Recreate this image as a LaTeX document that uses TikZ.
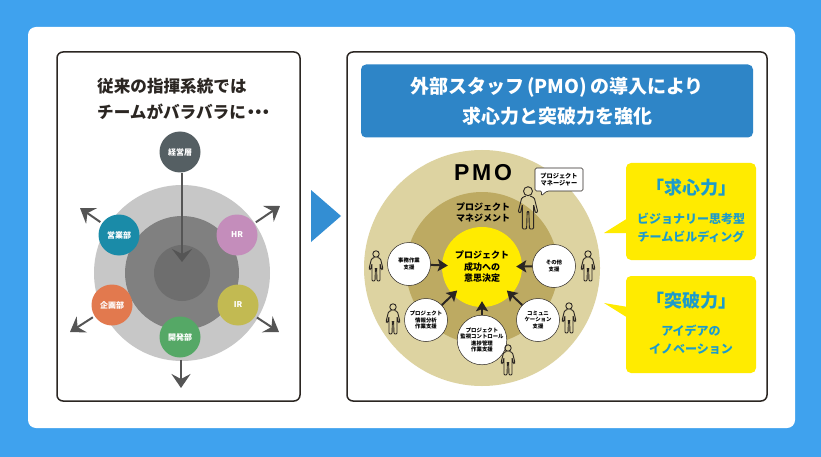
\documentclass[tikz,border=0pt]{standalone}
\usepackage{fontspec}
\setmainfont{Noto Sans CJK JP}
\newfontfamily\pmofont[LetterSpace=12]{Liberation Sans}
\usetikzlibrary{arrows.meta}
\definecolor{bgblue}{HTML}{3FA2EE}
\definecolor{headblue}{HTML}{2E85C7}
\definecolor{textblue}{HTML}{1C9BCB}
\definecolor{arrowgray}{HTML}{555555}
\definecolor{frameblack}{HTML}{2B2622}
\definecolor{outertan}{HTML}{DDD3A1}
\definecolor{midtan}{HTML}{BDAA62}
\definecolor{coreyellow}{HTML}{FFEB00}
\definecolor{execgray}{HTML}{555F63}
\definecolor{salesblue}{HTML}{1A8BA8}
\definecolor{hrpink}{HTML}{C48DBB}
\definecolor{planorange}{HTML}{E2794E}
\definecolor{irolive}{HTML}{C2BA52}
\definecolor{devgreen}{HTML}{55A866}
\newcommand{\sized}[1]{\fontsize{#1}{#1}\selectfont\bfseries}
\tikzset{
  panel/.style={draw=frameblack, line width=1.5pt, fill=white, rounded corners=6pt},
  ring/.style={circle, minimum size=#1, inner sep=0pt},
  dept/.style={circle, minimum size=41pt, inner sep=0pt, text=white, font=\sized{8}},
  topdown/.style={draw=arrowgray, line width=2pt, -{Stealth[length=13pt, width=20pt, inset=5pt]}},
  scatter/.style={draw=arrowgray, line width=2pt, shorten <=2pt, -{Stealth[length=14pt, width=19pt, inset=5pt]}},
  support/.style={circle, draw=frameblack, line width=0.5pt, fill=white, minimum size=43pt, inner sep=0pt, align=center, font=\sized{5.4}},
  push/.style={draw=frameblack, line width=2pt, shorten >=-6pt, -{Stealth[length=10pt, width=12pt, inset=2pt]}},
  callout/.style={fill=coreyellow, rounded corners=5pt},
  person/.pic={
    \draw[frameblack, line width=0.9pt] (0,-12) circle (3.2);
    \draw[frameblack, line width=0.9pt, rounded corners=1pt] (-1.5,-8.6) -- (-4.5,-7.2) -- (-7,2.8) -- (-5.4,3.6) -- (-4,-2.5) -- (-4,15) -- (-1,15) -- (-0.6,2.5) -- (0.6,2.5) -- (1,15) -- (4,15) -- (4,-2.5) -- (5.4,3.6) -- (7,2.8) -- (4.5,-7.2) -- (1.5,-8.6);
  }
}
\begin{document}
\begin{tikzpicture}[x=1pt, y=-1pt]
  \useasboundingbox (0,0) rectangle (821,457);
  \fill[bgblue] (0,0) rectangle (821,457);
  \fill[white, rounded corners=8pt] (28,27) rectangle (795,428);
  \draw[panel] (57,52) rectangle (300,401);
  \draw[panel] (347,52) rectangle (767,401);

  % left panel
  \node (lefttitle) at (97,99) [anchor=west, align=left, font=\sized{16.6}, text=frameblack, inner sep=0pt] {従来の指揮系統では\\[10pt]チームがバラバラに\kern-.2em・\kern-.55em・\kern-.55em・};
  \node (grayouter) at (182,273) [ring=176pt, fill=black!22] {};
  \node (graymid) at (182,273) [ring=114pt, fill=black!50] {};
  \node (graycore) at (182,273) [ring=56pt, fill=black!57] {};
  \node (exec) at (180,152) [dept, fill=execgray] {経営層};
  \node (sales) at (119,235) [dept, fill=salesblue] {営業部};
  \node (hr) at (237,235) [dept, fill=hrpink] {HR};
  \node (planning) at (112,305) [dept, fill=planorange] {企画部};
  \node (ir) at (238,305) [dept, fill=irolive] {IR};
  \node (dev) at (180,337) [dept, fill=devgreen] {開発部};
  \coordinate (execend) at (182,262);
  \coordinate (salesend) at (80,208);
  \coordinate (hrend) at (280,206);
  \coordinate (planningend) at (70,332);
  \coordinate (irend) at (279,332);
  \coordinate (devend) at (181,388);
  \draw[topdown] (exec.south -| execend) -- (execend);
  \draw[scatter] (sales) -- (salesend);
  \draw[scatter] (hr) -- (hrend);
  \draw[scatter] (planning) -- (planningend);
  \draw[scatter] (ir) -- (irend);
  \draw[scatter] (dev.south -| devend) -- (devend);

  \fill[headblue!70!bgblue] (311,190) -- (341,216) -- (311,242) -- cycle;

  % right panel
  \node (heading) at (557,101) [fill=headblue, rounded corners=5pt, minimum width=392pt, minimum height=73pt, text=white, align=center, font=\sized{19}] {外部スタッフ\,(PMO)\,の導入により\\[9pt]求心力と突破力を強化};
  \node (tanouter) at (482,268) [ring=236pt, fill=outertan] {};
  \node (tanmid) at (482,268) [ring=152pt, fill=midtan] {};
  \node (decision) at (482,267) [ring=80pt, fill=coreyellow, align=center, font=\sized{9}] {プロジェクト\\[2.5pt]成功への\\[2.5pt]意思決定};
  \node (pmo) at (483,173) [font=\pmofont\fontsize{23}{23}\selectfont\bfseries, inner sep=0pt] {PMO};
  \node (manage) at (483,212) [align=center, font=\sized{9}] {プロジェクト\\[2pt]マネジメント};

  \node (office) at (409,264) [support] {事務作業\\[1pt]支援};
  \node (other) at (554,266) [support] {その他\\[1pt]支援};
  \node (info) at (426,320) [support] {プロジェクト\\[1pt]情報分析\\[1pt]作業支援};
  \node (comm) at (538,320) [support] {コミュニ\\[1pt]ケーション\\[1pt]支援};
  \node (monitor) at (482,340) [support] {プロジェクト\\[1pt]監視コントロール\\[1pt]進捗管理\\[1pt]作業支援};
  \draw[push] (office) -- (decision);
  \draw[push] (other) -- (decision);
  \draw[push] (info) -- (decision);
  \draw[push] (comm) -- (decision);
  \draw[push] (monitor) -- (decision);

  \pic at (528,208) [scale=1.4] {person};
  \pic at (376,266) {person};
  \pic at (393,319) {person};
  \pic at (588,266) {person};
  \pic at (569,318) {person};
  \pic at (508,360) {person};

  \draw[frameblack, fill=white, line width=0.6pt, rounded corners=1.5pt] (535,168) -- (583,168) -- (583,191) -- (547,191) -- (541,196) -- (542,191) -- (535,191) -- cycle;
  \node (bubble) at (559,179.5) [align=center, font=\sized{6.2}] {プロジェクト\\[1pt]マネージャー};

  \fill[coreyellow] (628,218) -- (604,233) -- (628,233) -- cycle;
  \fill[coreyellow] (628,307) -- (604,303) -- (628,318) -- cycle;
  \fill[callout] (626,163) rectangle (756,260);
  \fill[callout] (626,276) rectangle (756,373);
  \node (pull) at (691,188) [text=textblue, font=\sized{18}] {「求心力」};
  \node (pulltext) at (691,227.5) [text=textblue, align=center, font=\sized{12}] {ビジョナリー思考型\\[6pt]チームビルディング};
  \node (push) at (691,301) [text=textblue, font=\sized{18}] {「突破力」};
  \node (pushtext) at (691,340) [text=textblue, align=center, font=\sized{12}] {アイデアの\\[6pt]イノベーション};
\end{tikzpicture}
\end{document}
